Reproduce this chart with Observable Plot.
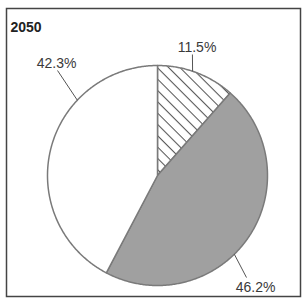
<!DOCTYPE html>
<html>
<head>
<meta charset="utf-8">
<script src="https://cdn.jsdelivr.net/npm/d3@7"></script>
<script src="https://cdn.jsdelivr.net/npm/@observablehq/plot@0.6"></script>
<style>
  html, body { margin: 0; padding: 0; background: #fff; }
  #chart svg { display: block; }
</style>
</head>
<body>
<div id="chart"></div>
<script>
// ---- data ----
const title = "2050";
const categories = ["A", "B", "C"];
const shares = [11.5, 46.2, 42.3];
const labels = ["11.5%", "46.2%", "42.3%"];

// ---- layout (not data) ----
const W = 303, H = 300;
const cx = 157, cy = 175, R = 110;
const mLeft = 6, mRight = 3, mTop = 8, mBottom = 4;
const fills = ["#ffffff", "#a0a0a0", "#ffffff"];
// label placement in polar terms (degrees clockwise from top, radius in pie radii)
const labelPos = [{a: 17.1, r: 1.222}, {a: 138.8, r: 1.353}, {a: -42.0, r: 1.371}];
const leaderPos = [
  {a1: 18.6, r1: 1, a2: 16.1, r2: 1.145},
  {a1: 135.7, r1: 1, a2: 138.9, r2: 1.231},
  {a1: -46.8, r1: 1, a2: -43.6, r2: 1.318}
];

const rad = d => d * Math.PI / 180;
const polar = (aDeg, r) => ({x: r * Math.sin(rad(aDeg)), y: r * Math.cos(rad(aDeg))});

const arcs = d3.pie().sort(null).startAngle(0).endAngle(2 * Math.PI)(shares);

function slicePoints(arc) {
  const pts = [{x: 0, y: 0}];
  const n = Math.max(2, Math.ceil((arc.endAngle - arc.startAngle) / 0.01));
  for (let k = 0; k <= n; k++) {
    const a = arc.startAngle + (arc.endAngle - arc.startAngle) * k / n;
    pts.push({x: Math.sin(a), y: Math.cos(a)});
  }
  pts.push({x: 0, y: 0});
  return pts;
}

const labelData = labels.map((t, i) => ({text: t, ...polar(labelPos[i].a, labelPos[i].r)}));
const leaderData = leaderPos.map(p => {
  const a = polar(p.a1, p.r1), b = polar(p.a2, p.r2);
  return {x1: a.x, y1: a.y, x2: b.x, y2: b.y};
});

const font = "Liberation Sans, Arial, Helvetica, sans-serif";

const sliceMarks = arcs.map((arc, i) => Plot.line(slicePoints(arc), {
  x: "x", y: "y",
  fill: fills[i],
  stroke: "#7a7a7a"
}));

const plot = Plot.plot({
  width: W,
  height: H,
  marginLeft: mLeft, marginRight: mRight, marginTop: mTop, marginBottom: mBottom,
  x: {domain: [(mLeft - cx) / R, (W - mRight - cx) / R], axis: null},
  y: {domain: [(cy - (H - mBottom)) / R, (cy - mTop) / R], axis: null},
  style: {fontFamily: font},
  marks: [
    ...sliceMarks,
    Plot.link(leaderData, {x1: "x1", y1: "y1", x2: "x2", y2: "y2", stroke: "#555", strokeWidth: 1}),
    Plot.text(labelData, {x: "x", y: "y", text: "text", fontSize: 14, fill: "#3a3a3a"}),
    Plot.text([title], {frameAnchor: "top-left", dx: 4, dy: 14, text: d => d, fontSize: 14, fontWeight: "bold", fill: "#222"}),
    Plot.frame({stroke: "#444", strokeWidth: 1.5})
  ]
});

// hatch pattern for the first slice
const svgNS = "http://www.w3.org/2000/svg";
const defs = document.createElementNS(svgNS, "defs");
const pat = document.createElementNS(svgNS, "pattern");
pat.setAttribute("id", "hatch");
pat.setAttribute("patternUnits", "userSpaceOnUse");
pat.setAttribute("width", "8");
pat.setAttribute("height", "8");
pat.setAttribute("patternTransform", "rotate(45)");
const bg = document.createElementNS(svgNS, "rect");
bg.setAttribute("width", "8"); bg.setAttribute("height", "8"); bg.setAttribute("fill", "#fff");
const ln = document.createElementNS(svgNS, "line");
ln.setAttribute("x1", "0"); ln.setAttribute("y1", "0.5"); ln.setAttribute("x2", "8"); ln.setAttribute("y2", "0.5");
ln.setAttribute("stroke", "#555"); ln.setAttribute("stroke-width", "1.1");
pat.appendChild(bg); pat.appendChild(ln);
defs.appendChild(pat);
plot.insertBefore(defs, plot.firstChild);
const lineGroups = plot.querySelectorAll('g[aria-label="line"]');
if (lineGroups.length) {
  const g0 = lineGroups[0];
  g0.setAttribute("fill", "url(#hatch)");
  g0.querySelectorAll("path").forEach(p => p.setAttribute("fill", "url(#hatch)"));
}

document.getElementById("chart").appendChild(plot);
</script>
</body>
</html>
